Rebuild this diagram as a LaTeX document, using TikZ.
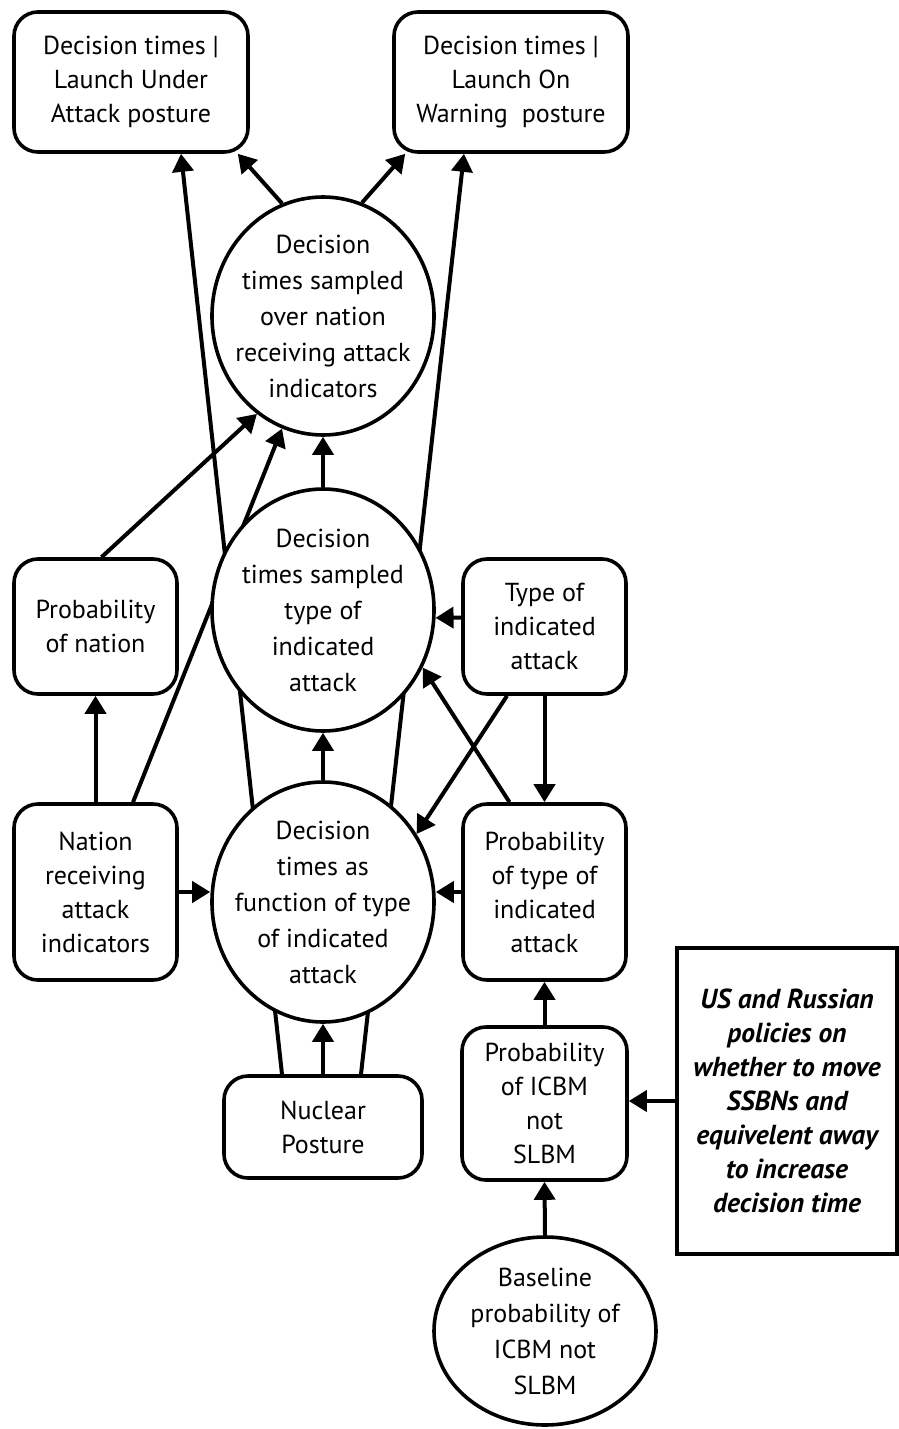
\documentclass[tikz,border=0pt]{standalone}
\usepackage{fontspec}
\setmainfont{PT Sans}
\usetikzlibrary{shapes.geometric,arrows.meta,backgrounds}
\begin{document}
\begin{tikzpicture}[x=1pt,y=-1pt,
  every node/.style={inner sep=0pt, align=center, line width=3.6pt},
  stepbox/.style={draw, rounded corners=24pt, fill=white, font=\fontsize{26}{34}\selectfont},
  oval/.style={ellipse, draw, fill=white, inner sep=-25pt, minimum width=222pt, font=\fontsize{26}{36}\selectfont},
  note/.style={draw, rectangle, fill=white, font=\bfseries\itshape\fontsize{27.5}{34}\selectfont},
  arr/.style={line width=4pt, -{Triangle[length=18pt,width=21pt]}}
]
\useasboundingbox (0,0) rectangle (899,1429);

% decision outputs
\node[stepbox, minimum width=234pt, minimum height=140pt] (lua) at (131,82) {Decision times |\\Launch Under\\Attack posture};
\node[stepbox, minimum width=234pt, minimum height=140pt] (low) at (511,82) {Decision times |\\Launch On\\Warning\ \ posture};

% sampled decision times
\node[oval, minimum height=238pt] (overnation) at (323,316) {Decision\\times sampled\\over nation\\receiving attack\\indicators};
\node[oval, minimum height=242pt] (overtype) at (323,610) {Decision\\times sampled\\type of\\indicated\\attack};
\node[oval, minimum height=240pt] (fntype) at (323,902) {Decision\\times as\\function of type\\of indicated\\attack};

% inputs
\node[stepbox, minimum width=163pt, minimum height=135pt] (pnation) at (95.5,626.5) {Probability\\of nation};
\node[stepbox, minimum width=163pt, minimum height=176pt] (nation) at (95.5,892) {Nation\\receiving\\attack\\indicators};
\node[stepbox, minimum width=163pt, minimum height=135pt] (type) at (544.5,626.5) {Type of\\indicated\\attack};
\node[stepbox, minimum width=163pt, minimum height=176pt] (ptype) at (544.5,892) {Probability\\of type of\\indicated\\attack};
\node[stepbox, minimum width=165pt, minimum height=153pt] (picbm) at (544.5,1103.5) {Probability\\of ICBM\\not\\SLBM};
\node[stepbox, minimum width=198pt, minimum height=102pt] (posture) at (323,1127) {Nuclear\\Posture};
\node[oval, minimum height=188pt] (base) at (545,1331) {Baseline\\probability of\\ICBM not\\SLBM};
\node[note, minimum width=220pt, minimum height=306pt] (policy) at (787,1101) {US and Russian\\policies on\\whether to move\\SSBNs and\\equivelent away\\to increase\\decision time};

\begin{pgfonlayer}{background}
  \fill[white] (0,0) rectangle (899,1429);
  % long links running behind the ovals
  \draw[arr] ([xshift=-41pt]posture.north) -- ([xshift=50pt]lua.south);
  \draw[arr] ([xshift=38pt]posture.north) -- ([xshift=-47pt]low.south);
  \draw[arr] ([xshift=37.5pt]nation.north) -- (overnation.250);
  % remaining links
  \draw[arr] (overnation.110) -- ([xshift=-12pt]lua.south east);
  \draw[arr] (overnation.71) -- ([xshift=13pt]low.south west);
  \draw[arr] ([xshift=6pt]pnation.north) -- (overnation.236);
  \draw[arr] (overtype.north) -- (overnation.south);
  \draw[arr] (fntype.north) -- (overtype.south);
  \draw[arr] (posture.north) -- (fntype.south);
  \draw[arr] (nation.north) -- (pnation.south);
  \draw[arr] (nation.east) -- (nation.east -| fntype.west);
  \draw[arr] ([yshift=9pt]type.west) -- (overtype.356.5);
  \draw[arr] (type.south) -- (ptype.north);
  \draw[arr] ([xshift=-37.5pt]type.south) -- (fntype.36);
  \draw[arr] ([xshift=-35pt]ptype.north) -- (overtype.330);
  \draw[arr] (ptype.west) -- (ptype.west -| fntype.east);
  \draw[arr] (picbm.north) -- (ptype.south);
  \draw[arr] (base.north) -- (picbm.south);
  \draw[arr] (policy.west) -- (policy.west -| picbm.east);
\end{pgfonlayer}
\end{tikzpicture}
\end{document}
